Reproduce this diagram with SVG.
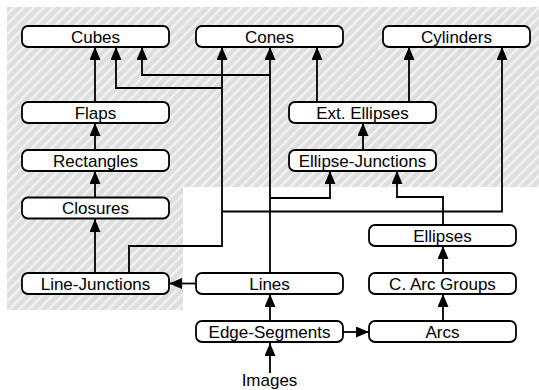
<svg xmlns="http://www.w3.org/2000/svg" width="539" height="390" viewBox="0 0 539 390">
<style>
.node rect{fill:#fff;stroke:#000;stroke-width:1.8}
.node text{font-family:"Liberation Sans",Arial,sans-serif;font-size:17px;fill:#000;text-anchor:middle}
.lbl{font-family:"Liberation Sans",Arial,sans-serif;font-size:17px;fill:#000;text-anchor:middle}
#connectors path{fill:none;stroke:#000;stroke-width:1.8;marker-end:url(#arr)}
</style>
<defs>
<pattern id="hatch" width="7" height="7" patternUnits="userSpaceOnUse" patternTransform="rotate(45)">
<rect width="7" height="7" fill="#dedede"/>
<rect width="2.4" height="7" fill="#f2f2f2"/>
</pattern>
<marker id="arr" markerUnits="userSpaceOnUse" markerWidth="14" markerHeight="12" refX="13" refY="5.5" orient="auto">
<path d="M0,0 L13,5.5 L0,11 Z" fill="#000"/>
</marker>
</defs>
<path d="M7,7 H539 V187 H183 V310 H7 Z" fill="url(#hatch)"/>
<g id="connectors">
<path d="M95,102 V47"/>
<path d="M95,150 V123"/>
<path d="M95,197 V171"/>
<path d="M95,273 V219"/>
<path d="M129,273 V246 H222 V47"/>
<path d="M222,88 H116 V47"/>
<path d="M222,211.5 H502 V47"/>
<path d="M270,273 V47"/>
<path d="M270,75 H142 V47"/>
<path d="M270,198 H330 V171"/>
<path d="M196,283.5 H169"/>
<path d="M270,321 V294"/>
<path d="M343,332 H369"/>
<path d="M443,321 V294"/>
<path d="M443,273 V246"/>
<path d="M443,225 V197 H397 V171"/>
<path d="M363,150 V123"/>
<path d="M317,102 V47"/>
<path d="M409,102 V47"/>
<path d="M270,373 V343"/>
</g>
<g id="cubes" class="node"><rect x="22" y="26" width="147" height="21" rx="6"/><text x="95.5" y="42.5">Cubes</text></g>
<g id="cones" class="node"><rect x="196" y="26" width="147" height="21" rx="6"/><text x="269.5" y="42.5">Cones</text></g>
<g id="cylinders" class="node"><rect x="383" y="26" width="147" height="21" rx="6"/><text x="456.5" y="42.5">Cylinders</text></g>
<g id="flaps" class="node"><rect x="22" y="102" width="147" height="21" rx="6"/><text x="95.5" y="118.5">Flaps</text></g>
<g id="ext-ellipses" class="node"><rect x="289" y="102" width="147" height="21" rx="6"/><text x="362.5" y="118.5">Ext. Ellipses</text></g>
<g id="rectangles" class="node"><rect x="22" y="150" width="147" height="21" rx="6"/><text x="95.5" y="166.5">Rectangles</text></g>
<g id="ellipse-junctions" class="node"><rect x="289" y="150" width="147" height="21" rx="6"/><text x="362.5" y="166.5">Ellipse-Junctions</text></g>
<g id="closures" class="node"><rect x="22" y="197.5" width="147" height="21" rx="6"/><text x="95.5" y="214">Closures</text></g>
<g id="ellipses" class="node"><rect x="369" y="225" width="147" height="21" rx="6"/><text x="442.5" y="241.5">Ellipses</text></g>
<g id="line-junctions" class="node"><rect x="22" y="273" width="147" height="21" rx="6"/><text x="95.5" y="289.5">Line-Junctions</text></g>
<g id="lines" class="node"><rect x="196" y="273" width="147" height="21" rx="6"/><text x="269.5" y="289.5">Lines</text></g>
<g id="c-arc-groups" class="node"><rect x="369" y="273" width="147" height="21" rx="6"/><text x="442.5" y="289.5">C. Arc Groups</text></g>
<g id="edge-segments" class="node"><rect x="196" y="321" width="147" height="21" rx="6"/><text x="269.5" y="337.5">Edge-Segments</text></g>
<g id="arcs" class="node"><rect x="369" y="321" width="147" height="21" rx="6"/><text x="442.5" y="337.5">Arcs</text></g>
<g id="images"><text class="lbl" x="269.5" y="386">Images</text></g>
</svg>
